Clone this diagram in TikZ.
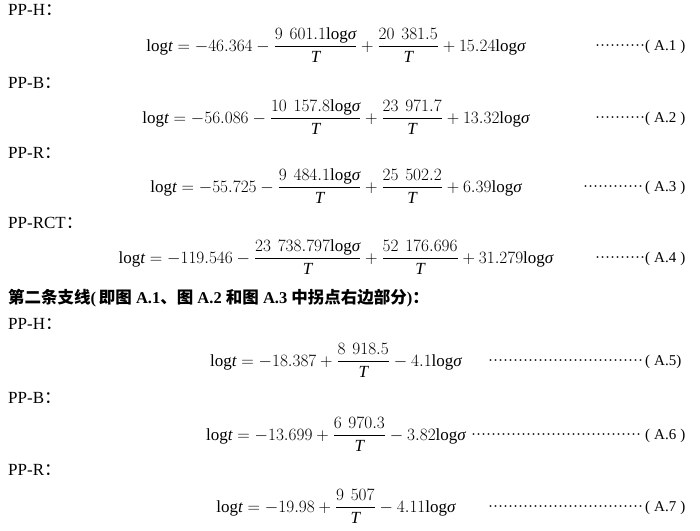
\documentclass[tikz,border=0pt]{standalone}
\usepackage{fontspec}
\setmainfont{Liberation Serif}
\setmathrm{Liberation Serif}
\newfontfamily\cjk{Noto Sans CJK SC}
\newcommand\mydots[1]{\leaders\hbox to 5pt{\hss·\hss}\hskip #1pt\relax}
\newcommand\lgt{\mathrm{log}\textit{t}}
\newcommand\lgs{\mathrm{log}\textit{σ}}
\newcommand\TT{\textit{T}}
\newcommand\gs{\hspace{0.4em}}
\newcommand\cc{{\cjk ：}}
\begin{document}
\begin{tikzpicture}[x=1pt,y=-1pt,
  lbl/.style={inner sep=0pt,anchor=base west,font=\fontsize{17}{20}\selectfont},
  eq/.style={inner sep=0pt,anchor=base,font=\fontsize{17}{20}\selectfont},
  tag/.style={inner sep=0pt,anchor=base west,font=\fontsize{15}{18}\selectfont},
  head/.style={inner sep=0pt,anchor=base west,font=\fontsize{16.5}{19}\selectfont\bfseries}]
\useasboundingbox[fill=white] (0,0) rectangle (700,530);

\node[lbl] (l1) at (8,15) {PP-H\cc};
\node[eq] (e1) at (336,51) {$\displaystyle \lgt=-46.364-\frac{9\gs601.1\lgs}{\TT}+\frac{20\gs381.5}{\TT}+15.24\lgs$};
\node[tag] (t1) at (595,50) {\mydots{50}(\hspace{4pt}A.1\hspace{4pt})};

\node[lbl] (l2) at (8,88) {PP-B\cc};
\node[eq] (e2) at (336,123) {$\displaystyle \lgt=-56.086-\frac{10\gs157.8\lgs}{\TT}+\frac{23\gs971.7}{\TT}+13.32\lgs$};
\node[tag] (t2) at (595,122) {\mydots{50}(\hspace{4pt}A.2\hspace{4pt})};

\node[lbl] (l3) at (8,158) {PP-R\cc};
\node[eq] (e3) at (336,192) {$\displaystyle \lgt=-55.725-\frac{9\gs484.1\lgs}{\TT}+\frac{25\gs502.2}{\TT}+6.39\lgs$};
\node[tag] (t3) at (583,191) {\mydots{62}(\hspace{4pt}A.3\hspace{4pt})};

\node[lbl] (l4) at (8,228) {PP-RCT\cc};
\node[eq] (e4) at (336,263) {$\displaystyle \lgt=-119.546-\frac{23\gs738.797\lgs}{\TT}+\frac{52\gs176.696}{\TT}+31.279\lgs$};
\node[tag] (t4) at (595,262) {\mydots{50}(\hspace{4pt}A.4\hspace{4pt})};

\node[head] (h) at (8,303) {{\cjk 第二条支线}(\,{\cjk 即图} A.1{\cjk 、图} A.2 {\cjk 和图} A.3 {\cjk 中拐点右边部分})\cc};

\node[lbl] (l5) at (8,329) {PP-H\cc};
\node[eq] (e5) at (336,366) {$\displaystyle \lgt=-18.387+\frac{8\gs918.5}{\TT}-4.1\lgs$};
\node[tag] (t5) at (488,365) {\mydots{157}(\hspace{4pt}A.5)};

\node[lbl] (l6) at (8,403) {PP-B\cc};
\node[eq] (e6) at (336,440) {$\displaystyle \lgt=-13.699+\frac{6\gs970.3}{\TT}-3.82\lgs$};
\node[tag] (t6) at (471,439) {\mydots{174}(\hspace{4pt}A.6\hspace{4pt})};

\node[lbl] (l7) at (8,475) {PP-R\cc};
\node[eq] (e7) at (336,512) {$\displaystyle \lgt=-19.98+\frac{9\gs507}{\TT}-4.11\lgs$};
\node[tag] (t7) at (488,511) {\mydots{157}(\hspace{4pt}A.7\hspace{4pt})};
\end{tikzpicture}
\end{document}
